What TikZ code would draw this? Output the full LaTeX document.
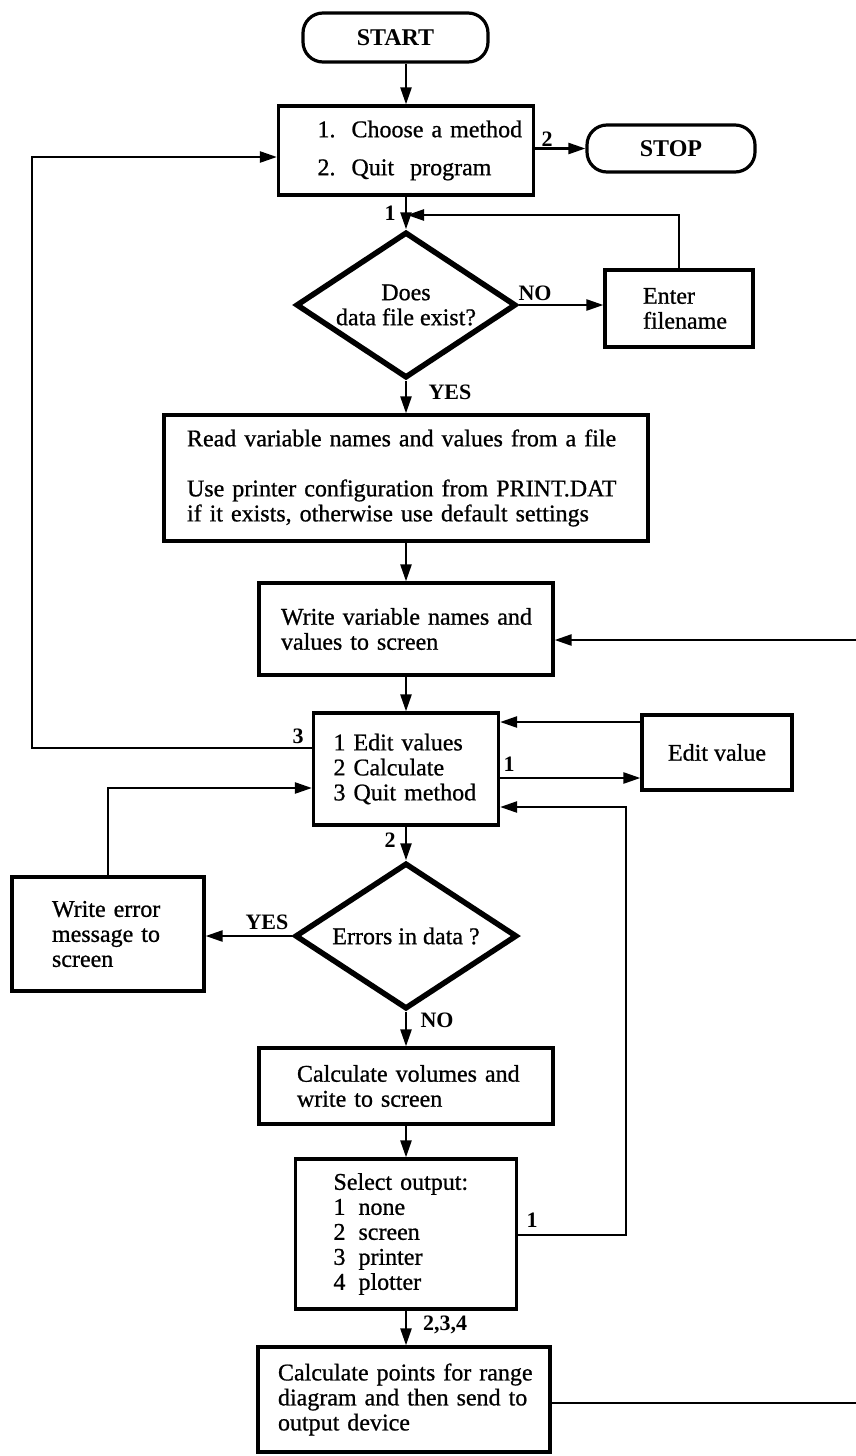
\documentclass[tikz,border=0pt]{standalone}
\usepackage{fontspec}
\setmainfont{Liberation Serif}
\newfontfamily\heavy{Liberation Serif}[FakeBold=0.8]
\usetikzlibrary{arrows.meta,shapes.geometric}
\begin{document}
\begin{tikzpicture}[x=1pt,y=-1pt,
  box/.style={draw, line width=3.2pt, rectangle, inner ysep=0pt, font=\heavy\fontsize{24}{25}\selectfont, align=left},
  term/.style={draw, line width=3.2pt, rounded corners=20pt, font=\bfseries\fontsize{24}{25}\selectfont},
  dec/.style={draw, diamond, line width=5.5pt, aspect=1.5, inner sep=0pt, font=\heavy\fontsize{24}{25}\selectfont, align=center},
  conn/.style={line width=2.4pt},
  arr/.style={conn, -{Triangle[length=17pt,width=11pt]}},
  lab/.style={font=\bfseries\fontsize{22}{24}\selectfont, inner sep=0pt}]
\useasboundingbox (0,0) rectangle (855,1456);

% nodes
\node[term, minimum width=185pt, minimum height=49pt] (start) at (395.5,37.5) {START};
\node[box, minimum height=89pt, inner xsep=39pt, text width=177pt] (box1) at (406,150.5)
  {\mbox{1.\ \ Choose a method}\\[13pt]\mbox{2.\ \ Quit\ \ program}};
\node[term, minimum width=168pt, minimum height=47pt] (stop) at (671,148.5) {STOP};
\node[dec, minimum width=220pt, minimum height=146pt] (d1) at (406,305) {Does\\data file exist?};
\node[box, minimum height=77pt, inner xsep=38pt, text width=72pt] (enter) at (679,308.5)
  {\mbox{Enter}\\\mbox{filename}};
\node[box, minimum height=126pt, inner xsep=23pt, text width=438pt] (read) at (406,478)
  {\mbox{Read variable names and values from a file}\\[25pt]\mbox{Use printer configuration from PRINT.DAT}\\\mbox{if it exists, otherwise use default settings}};
\node[box, minimum height=92pt, inner xsep=22pt, text width=250pt] (write) at (406,629)
  {\mbox{Write variable names and}\\\mbox{values to screen}};
\node[box, minimum height=112pt, inner xsep=20pt, text width=145pt] (menu) at (406,769)
  {\mbox{1 Edit values}\\\mbox{2 Calculate}\\\mbox{3 Quit method}};
\node[box, minimum width=150pt, minimum height=75pt, align=center] (ev) at (717,752.5) {Edit value};
\node[box, minimum height=114pt, inner xsep=40pt, text width=112pt] (err) at (108,934)
  {\mbox{Write error}\\\mbox{message to}\\\mbox{screen}};
\node[dec, minimum width=222pt, minimum height=146pt] (d2) at (406,936) {Errors in data ?};
\node[box, minimum height=76pt, inner xsep=38pt, text width=218pt] (calc) at (406,1086)
  {\mbox{Calculate volumes and}\\\mbox{write to screen}};
\node[box, minimum height=150pt, inner xsep=38pt, text width=145pt] (sel) at (406,1234)
  {\mbox{Select output:}\\\mbox{\makebox[25pt][l]{1}none}\\\mbox{\makebox[25pt][l]{2}screen}\\\mbox{\makebox[25pt][l]{3}printer}\\\mbox{\makebox[25pt][l]{4}plotter}};
\node[box, minimum height=105pt, inner xsep=20pt, text width=252pt] (bot) at (404,1399.5)
  {\mbox{Calculate points for range}\\\mbox{diagram and then send to}\\\mbox{output device}};

% coordinates
\coordinate (j1) at (407,215);
\coordinate (lp1) at (32,748);
\coordinate (lp2) at (32,157);
\coordinate (e1) at (0,722);
\coordinate (e2) at (0,778);
\coordinate (e3) at (0,788);
\coordinate (s1) at (626,1235);
\coordinate (s2) at (626,807);
\coordinate (r1) at (862,1403);
\coordinate (r2) at (862,640);

% connectors
\draw[arr] (box1.north |- start.south) -- (box1.north);
\draw[arr] (box1.east |- stop.west) -- (stop.west);
\draw[arr] (box1.south) -- (d1.north);
\draw[arr] (d1.east) -- (enter.west |- d1.east);
\draw[arr] (enter.north) |- (j1);
\draw[arr] (d1.south) -- (d1.south |- read.north);
\draw[arr] (read.south) -- (read.south |- write.north);
\draw[arr] (write.south) -- (write.south |- menu.north);
\draw[arr] (menu.west |- lp1) -- (lp1) -- (lp2) -- (box1.west |- lp2);
\draw[arr] (ev.west |- e1) -- (menu.east |- e1);
\draw[arr] (menu.east |- e2) -- (ev.west |- e2);
\draw[arr] (err.north) |- (menu.west |- e3);
\draw[arr] (menu.south) -- (menu.south |- d2.north);
\draw[arr] (d2.west) -- (err.east |- d2.west);
\draw[arr] (d2.south) -- (d2.south |- calc.north);
\draw[arr] (calc.south) -- (calc.south |- sel.north);
\draw[arr] (sel.east |- s1) -- (s1) -- (s2) -- (menu.east |- s2);
\draw[arr] (sel.south) -- (sel.south |- bot.north);
\draw[arr] (bot.east |- r1) -- (r1) -- (r2) -- (write.east |- r2);

% labels
\node[lab] (l2a) at (547,139) {2};
\node[lab] (l1a) at (390,213) {1};
\node[lab] (lno1) at (535,293) {NO};
\node[lab] (lyes1) at (450,392) {YES};
\node[lab] (l3) at (298,736) {3};
\node[lab] (l1b) at (509,764) {1};
\node[lab] (l2b) at (390,840) {2};
\node[lab] (lyes2) at (267,922) {YES};
\node[lab] (lno2) at (437,1020) {NO};
\node[lab] (l1c) at (532,1220) {1};
\node[lab] (l234) at (445,1325) {2,3,4};
\end{tikzpicture}
\end{document}
